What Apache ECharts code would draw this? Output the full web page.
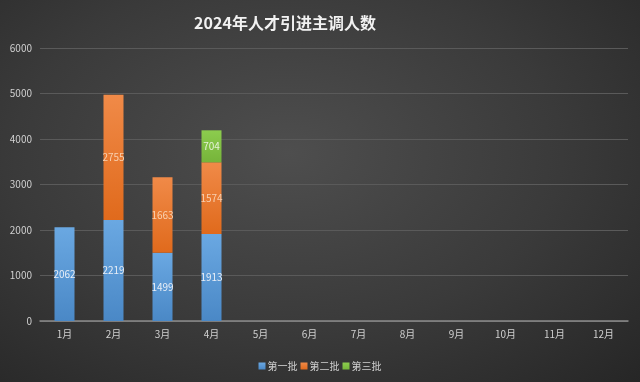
<!DOCTYPE html>
<html><head><meta charset="utf-8">
<script src="https://cdn.jsdelivr.net/npm/echarts@6/dist/echarts.min.js"></script>
<style>html,body{margin:0;padding:0;}#c{width:640px;height:382px;background:radial-gradient(ellipse at 45% 40%,#4e4e4e 0%,#3a3a3a 55%,#262626 100%);}</style>
</head><body><div id="c"></div>
<script>
const months = ['1月','2月','3月','4月','5月','6月','7月','8月','9月','10月','11月','12月'];
const batch1 = [2062, 2219, 1499, 1913, null, null, null, null, null, null, null, null];
const batch2 = [null, 2755, 1663, 1574, null, null, null, null, null, null, null, null];
const batch3 = [null, null, null, 704, null, null, null, null, null, null, null, null];
const seriesNames = ['第一批','第二批','第三批'];
const yTicks = [0, 1000, 2000, 3000, 4000, 5000, 6000];

const font = 'Noto Sans CJK SC';
function grad(top, bottom){
  return new echarts.graphic.LinearGradient(0,0,0,1,[{offset:0,color:top},{offset:1,color:bottom}]);
}
function mk(name, data, top, bottom, labelColor){
  return {
    name, type:'bar', stack:'s', data, barWidth:20,
    itemStyle:{color:grad(top,bottom)},
    label:{show:true, position:'inside', color:labelColor, fontSize:10, fontFamily:font,
      formatter:p=>p.value==null?'':String(p.value)}
  };
}
const chart = echarts.init(document.getElementById('c'), null, {renderer:'canvas'});
chart.setOption({
  backgroundColor:'transparent',
  animation:false,
  color:['#5b9bd5','#ed7d31','#84c446'],
  title:{text:'2024年人才引进主调人数', left:280, top:10, textAlign:'center',
    textStyle:{color:'#f2f2f2', fontSize:16, fontWeight:'bold', fontFamily:font}},
  legend:{bottom:6, left:'center', itemWidth:7, itemHeight:7, itemGap:3, icon:'rect',
    textStyle:{color:'#d0d0d0', fontSize:10, fontFamily:font, padding:[0,0,0,-3]},
    data:seriesNames},
  grid:{left:40, right:12, top:48, bottom:61},
  xAxis:{type:'category', data:months,
    axisLine:{lineStyle:{color:'#8a8a8a', width:1.5}}, axisTick:{show:false},
    axisLabel:{color:'#d0d0d0', fontSize:10, fontFamily:font, margin:8}},
  yAxis:{type:'value', min:yTicks[0], max:yTicks[yTicks.length-1], interval:1000,
    axisLine:{show:false}, axisTick:{show:false},
    splitLine:{lineStyle:{color:'#5a5a5a', width:1}},
    axisLabel:{color:'#d0d0d0', fontSize:10, fontFamily:font, margin:8, formatter:v=>String(v)}},
  series:[
    mk(seriesNames[0], batch1, '#6aa8e2', '#4a88c6', '#e8eef6'),
    mk(seriesNames[1], batch2, '#f08a48', '#e06a1c', '#f8d0b0'),
    mk(seriesNames[2], batch3, '#8ccc4e', '#76b43a', '#e6f2d8')
  ]
});
</script></body></html>
